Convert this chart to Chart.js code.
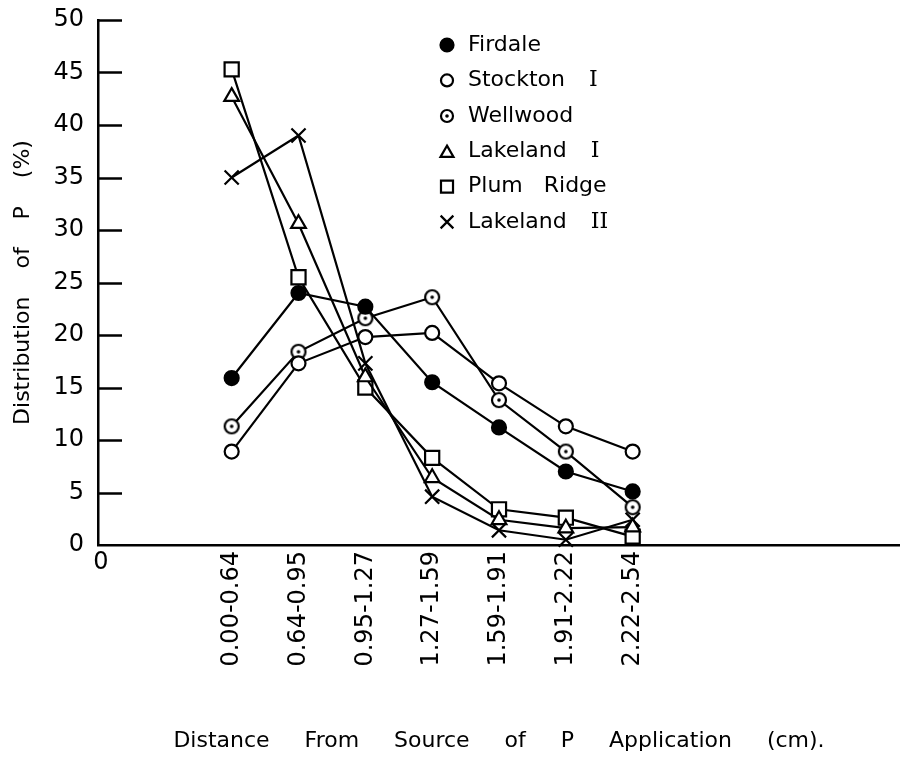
<!DOCTYPE html>
<html>
<head>
<meta charset="utf-8">
<script src="https://cdn.jsdelivr.net/npm/chart.js@4.4.1/dist/chart.umd.min.js"></script>
<style>
  html, body { margin: 0; padding: 0; background: #fff; }
  #wrap { width: 900px; height: 757px; }
</style>
</head>
<body>
<div id="wrap"><canvas id="chart" width="900" height="757"></canvas></div>
<script>
// distance classes (cm)
const distanceLabels = ["0.00-0.64", "0.64-0.95", "0.95-1.27", "1.27-1.59", "1.59-1.91", "1.91-2.22", "2.22-2.54"];

// distribution of P (%) per soil
const firdale    = [15.9, 24.0, 22.7, 15.5, 11.2, 7.0, 5.1];
const stockton   = [8.9, 17.3, 19.8, 20.2, 15.4, 11.3, 8.9];
const wellwood   = [11.3, 18.4, 21.6, 23.6, 13.8, 8.9, 3.6];
const lakeland1  = [42.7, 30.6, 16.0, 6.4, 2.4, 1.6, 1.7];
const plumRidge  = [45.3, 25.5, 15.0, 8.3, 3.4, 2.6, 0.8];
const lakeland2  = [35.0, 39.0, 17.3, 4.6, 1.4, 0.5, 2.4];

// the x axis starts at "0", first class sits two steps to the right
const leadGap = 2;
const xMax = 12;
const yMin = 0;
const yMax = 50;
const yStep = 5;

const FONT = '"DejaVu Sans", sans-serif';
const SERIF = '"DejaVu Serif", serif';

function dotCircle(r) {
    const c = document.createElement("canvas");
    const s = Math.ceil(2 * r + 4);
    c.width = s;
    c.height = s;
    const g = c.getContext("2d");
    g.fillStyle = "#fff";
    g.strokeStyle = "#000";
    g.lineWidth = 2.2;
    g.beginPath();
    g.arc(s / 2, s / 2, r, 0, Math.PI * 2);
    g.fill();
    g.stroke();
    g.fillStyle = "#000";
    g.beginPath();
    g.arc(s / 2, s / 2, 1.8, 0, Math.PI * 2);
    g.fill();
    return c;
}

const wellwoodPoint = dotCircle(7);
const wellwoodLegend = dotCircle(6);

const series = [
    { name: "Firdale", numeral: "", data: firdale, style: "circle", radius: 7, fill: "#000", legendStyle: "circle", legendRadius: 6.5 },
    { name: "Stockton", numeral: "I", data: stockton, style: "circle", radius: 7, fill: "#fff", legendStyle: "circle", legendRadius: 6 },
    { name: "Wellwood", numeral: "", data: wellwood, style: wellwoodPoint, radius: 7, fill: "#fff", legendStyle: wellwoodLegend, legendRadius: 6 },
    { name: "Lakeland", numeral: "I", data: lakeland1, style: "triangle", radius: 8.5, fill: "#fff", legendStyle: "triangle", legendRadius: 7.5 },
    { name: "Plum   Ridge", numeral: "", data: plumRidge, style: "rect", radius: 10, fill: "#fff", legendStyle: "rect", legendRadius: 8.5 },
    { name: "Lakeland", numeral: "II", data: lakeland2, style: "crossRot", radius: 10, fill: "#fff", legendStyle: "crossRot", legendRadius: 9 }
];

function drawMarker(ctx, style, r, x, y, fill) {
    ctx.save();
    ctx.lineWidth = 2.2;
    ctx.strokeStyle = "#000";
    ctx.fillStyle = fill;
    if (typeof style !== "string") {
        ctx.drawImage(style, Math.round(x - style.width / 2), Math.round(y - style.height / 2));
        ctx.restore();
        return;
    }
    ctx.beginPath();
    if (style === "circle") {
        ctx.arc(x, y, r, 0, Math.PI * 2);
        ctx.fill();
        ctx.stroke();
    } else if (style === "triangle") {
        for (let k = 0; k < 3; k++) {
            const a = k * 2 * Math.PI / 3;
            const px = x + Math.sin(a) * r;
            const py = y - Math.cos(a) * r + r * 0.25;
            if (k === 0) ctx.moveTo(px, py); else ctx.lineTo(px, py);
        }
        ctx.closePath();
        ctx.fill();
        ctx.stroke();
    } else if (style === "rect") {
        const h = r * Math.SQRT1_2;
        ctx.rect(x - h, y - h, 2 * h, 2 * h);
        ctx.fill();
        ctx.stroke();
    } else if (style === "crossRot") {
        const h = r * Math.SQRT1_2;
        ctx.moveTo(x - h, y - h);
        ctx.lineTo(x + h, y + h);
        ctx.moveTo(x - h, y + h);
        ctx.lineTo(x + h, y - h);
        ctx.stroke();
    }
    ctx.restore();
}

// legend inside the plot, plus inward y ticks and the x origin "0"
const paperPlugin = {
    id: "paper",
    afterDraw(chart) {
        const ctx = chart.ctx;
        const area = chart.chartArea;
        const yScale = chart.scales.y;

        ctx.save();
        ctx.strokeStyle = "#000";
        ctx.lineWidth = 2.5;
        for (let v = yMin + yStep; v <= yMax; v += yStep) {
            const py = Math.round(yScale.getPixelForValue(v)) + 0.5;
            ctx.beginPath();
            ctx.moveTo(area.left, py);
            ctx.lineTo(area.left + 24, py);
            ctx.stroke();
        }

        ctx.fillStyle = "#000";
        ctx.font = "24px " + FONT;
        ctx.textAlign = "center";
        ctx.textBaseline = "top";
        ctx.fillText("0", area.left + 3, area.bottom + 6);

        const lx = 447;
        const tx = 468;
        const top = 45;
        const gap = 35.4;
        ctx.textAlign = "left";
        ctx.textBaseline = "middle";
        series.forEach((s, i) => {
            const y = top + i * gap;
            drawMarker(ctx, s.legendStyle, s.legendRadius, lx, y, s.fill);
            ctx.font = "22px " + FONT;
            ctx.fillText(s.name, tx, y);
            if (s.numeral) {
                const w = ctx.measureText(s.name).width;
                ctx.font = "22px " + SERIF;
                ctx.fillText(s.numeral, tx + w + 24, y);
            }
        });
        ctx.restore();
    }
};

const datasets = series.map(s => ({
    label: s.numeral ? s.name + " " + s.numeral : s.name,
    data: s.data.map((v, i) => ({ x: i + leadGap, y: v })),
    borderColor: "#000",
    borderWidth: 2.2,
    backgroundColor: s.fill,
    pointStyle: s.style,
    pointRadius: s.radius,
    pointHoverRadius: s.radius,
    pointBorderColor: "#000",
    pointBackgroundColor: s.fill,
    pointBorderWidth: 2.2,
    tension: 0,
    fill: false,
    clip: false
}));

new Chart(document.getElementById("chart"), {
    type: "line",
    data: { datasets: datasets },
    options: {
        responsive: false,
        devicePixelRatio: 1,
        animation: false,
        layout: { autoPadding: false, padding: { top: 20, right: 0, left: 0, bottom: 0 } },
        plugins: {
            legend: { display: false },
            tooltip: { enabled: false }
        },
        scales: {
            x: {
                type: "linear",
                min: 0,
                max: xMax,
                afterFit(scale) {
                    scale.height = 212;
                    scale.paddingLeft = 0;
                    scale.paddingRight = 0;
                },
                afterBuildTicks(scale) {
                    scale.ticks = distanceLabels.map((_, i) => ({ value: i + leadGap }));
                },
                grid: { display: false, drawTicks: false },
                border: { display: true, color: "#000", width: 2.5 },
                ticks: {
                    autoSkip: false,
                    minRotation: 90,
                    maxRotation: 90,
                    padding: 6,
                    color: "#000",
                    font: { family: FONT, size: 24 },
                    callback: value => distanceLabels[value - leadGap] || ""
                },
                title: {
                    display: true,
                    text: "Distance     From     Source     of     P     Application     (cm).",
                    color: "#000",
                    font: { family: FONT, size: 22 },
                    padding: { top: 0, bottom: 3 }
                }
            },
            y: {
                min: yMin,
                max: yMax,
                afterFit(scale) {
                    scale.width = 98;
                    scale.paddingTop = 0;
                    scale.paddingBottom = 0;
                },
                grid: { display: false, drawTicks: false },
                border: { display: true, color: "#000", width: 2.5 },
                ticks: {
                    stepSize: yStep,
                    padding: 14,
                    color: "#000",
                    font: { family: FONT, size: 24 }
                },
                title: {
                    display: true,
                    text: "Distribution    of    P    (%)",
                    color: "#000",
                    font: { family: FONT, size: 22 },
                    padding: { top: 10, bottom: 0 }
                }
            }
        }
    },
    plugins: [paperPlugin]
});
</script>
</body>
</html>
